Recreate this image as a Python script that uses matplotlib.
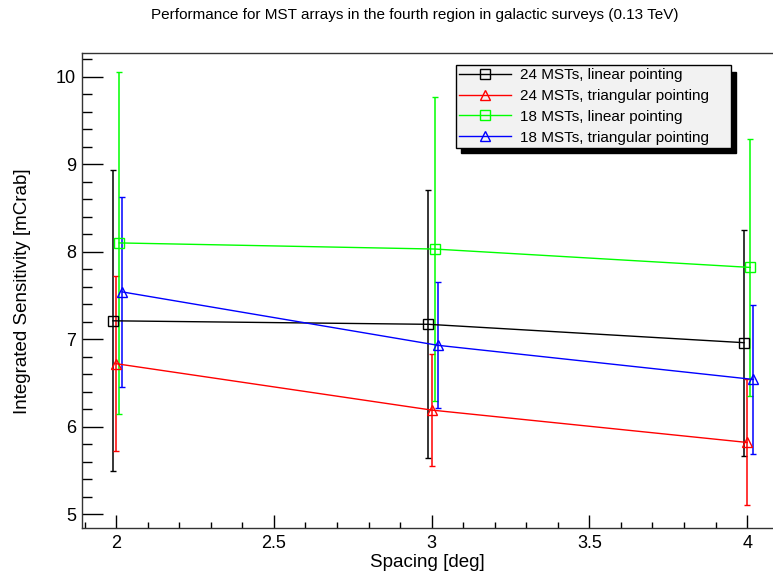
import numpy as np
import matplotlib
matplotlib.use("Agg")
import matplotlib.pyplot as plt
from matplotlib.lines import Line2D
from matplotlib.patches import Rectangle
from matplotlib.ticker import MultipleLocator

plt.rcParams['font.family'] = ['Liberation Sans', 'DejaVu Sans']

# spacing values (deg); each series is nudged a little in x like the original
spacing = np.array([2.0, 3.0, 4.0])
offsets = [-0.01, 0.0, 0.01, 0.02]

labels = ["24 MSTs, linear pointing", "24 MSTs, triangular pointing",
          "18 MSTs, linear pointing", "18 MSTs, triangular pointing"]
colors = ["black", "#ff0000", "#00ff00", "#0000ff"]
markers = ["s", "^", "s", "^"]

# integrated sensitivity [mCrab] and symmetric errors
sens_24_lin = [7.21, 7.17, 6.96]
err_24_lin = [1.72, 1.53, 1.29]
sens_24_tri = [6.72, 6.19, 5.82]
err_24_tri = [1.00, 0.64, 0.72]
sens_18_lin = [8.10, 8.03, 7.82]
err_18_lin = [1.95, 1.74, 1.47]
sens_18_tri = [7.54, 6.93, 6.54]
err_18_tri = [1.09, 0.72, 0.85]

values = [sens_24_lin, sens_24_tri, sens_18_lin, sens_18_tri]
errors = [err_24_lin, err_24_tri, err_18_lin, err_18_tri]

W, H = 773, 576
fig = plt.figure(figsize=(W / 100, H / 100), dpi=100)
ax = fig.add_axes([0.1057, 0.0825, 0.8943, 0.825])

handles = []
for y, e, c, m, off, lab in zip(values, errors, colors, markers, offsets, labels):
    x = spacing + off
    ax.errorbar(x, y, yerr=e, color=c, lw=1.0, marker=m, ms=7.5, mfc='none',
                mec=c, mew=1.0, capsize=2.5, capthick=1.0, elinewidth=1.1)
    handles.append(Line2D([], [], color=c, lw=1.0, marker=m, ms=7.5,
                          mfc='none', mec=c, mew=1.0))

ax.set_xlim(1.891, 4.082)
ax.set_ylim(4.837, 10.267)

ax.xaxis.set_major_locator(MultipleLocator(0.5))
ax.xaxis.set_minor_locator(MultipleLocator(0.1))
ax.yaxis.set_major_locator(MultipleLocator(1))
ax.yaxis.set_minor_locator(MultipleLocator(0.2))
ax.xaxis.set_major_formatter(plt.FuncFormatter(lambda v, p: f"{v:g}"))

ax.tick_params(axis='y', which='major', direction='in', length=15, width=1,
               labelsize=13, pad=4, right=False)
ax.tick_params(axis='y', which='minor', direction='in', length=7.5, width=1, right=False)
ax.tick_params(axis='x', which='major', direction='in', length=9.5, width=1,
               labelsize=13, pad=5, top=False)
ax.tick_params(axis='x', which='minor', direction='in', length=4.5, width=1, top=False)

for s in ['left', 'bottom', 'top']:
    ax.spines[s].set_color('#333333')
    ax.spines[s].set_linewidth(1.0)
ax.spines['right'].set_visible(False)

ax.set_xlabel("Spacing [deg]", fontsize=13.5, labelpad=1)
ax.set_ylabel("Integrated Sensitivity [mCrab]", fontsize=13.5, labelpad=18)

fig.text(415 / W, 1 - 15 / H, "Performance for MST arrays in the fourth region in galactic surveys (0.13 TeV)",
         ha='center', va='center', fontsize=11)

# legend box in pixel terms (left, top, right, bottom)
lx0, ly0, lx1, ly1 = 456, 65, 731, 146
leg = fig.legend(handles, labels, loc='upper left',
                 bbox_to_anchor=(lx0 / W, 1 - ly1 / H, (lx1 - lx0) / W, (ly1 - ly0) / H),
                 mode='expand', borderaxespad=0, fontsize=11, frameon=True,
                 fancybox=False, handlelength=3.4, handletextpad=0.55,
                 labelspacing=0.44, borderpad=0.22)
leg.get_frame().set_facecolor('#f2f2f2')
leg.get_frame().set_edgecolor('black')
leg.get_frame().set_linewidth(1.0)
leg.get_frame().set_alpha(1.0)
leg.set_zorder(6)

# ROOT style drop shadow
fig.patches.append(Rectangle(((lx0 + 5) / W, 1 - (ly1 + 7) / H), (lx1 - lx0) / W, (ly1 - ly0) / H,
                             transform=fig.transFigure, facecolor='black', edgecolor='black',
                             zorder=5))

fig.savefig("out.png", dpi=100)
